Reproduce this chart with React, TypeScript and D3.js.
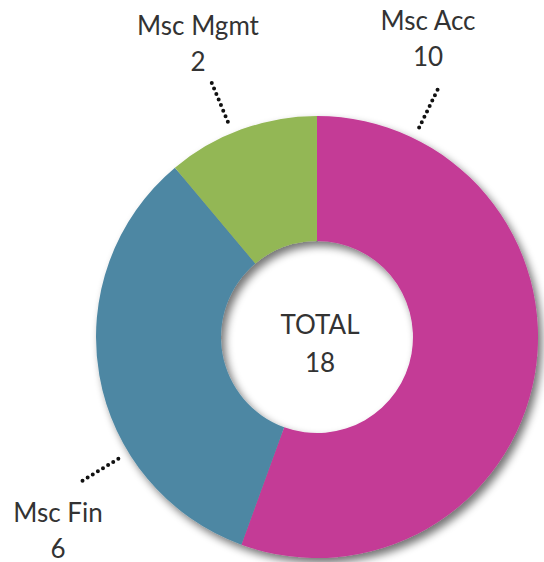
import React from "react";
import * as d3 from "d3";

const categories = ["Msc Acc", "Msc Fin", "Msc Mgmt"];
const values = [10, 6, 2];
const colors = ["#C43A96", "#4E87A3", "#93B755"];
const totalLabel = "TOTAL";

// label layout (angles in degrees clockwise from top)
const leaderAngles = [26, 238.5, -22.5];
const labelPos = [
  { x: 428, y: 30 },
  { x: 58, y: 522 },
  { x: 198, y: 35 },
];

const W = 544;
const H = 562;
const cx = 317;
const cy = 337;
const outerR = 221;
const innerR = 96;

export default function App() {
  const pie = d3.pie<number>().sort(null).value((d) => d);
  const arcs = pie(values);
  const arcGen = d3.arc<d3.PieArcDatum<number>>().innerRadius(innerR).outerRadius(outerR);
  const total = d3.sum(values);
  const font = "Lato, 'Open Sans', sans-serif";
  const pt = (a: number, r: number) => {
    const rad = (a * Math.PI) / 180;
    return [cx + r * Math.sin(rad), cy - r * Math.cos(rad)];
  };
  const fs = 26;
  const tc = "#333";
  return (
    <svg width={W} height={H} style={{ position: "absolute", left: 0, top: 0 }}>
      <defs>
        <filter id="sh" x="-20%" y="-20%" width="140%" height="140%">
          <feGaussianBlur in="SourceAlpha" stdDeviation="4" />
          <feOffset dx="4" dy="5" result="ob" />
          <feComponentTransfer>
            <feFuncA type="linear" slope="0.55" />
          </feComponentTransfer>
          <feMerge>
            <feMergeNode />
            <feMergeNode in="SourceGraphic" />
          </feMerge>
        </filter>
      </defs>
      <g transform={`translate(${cx},${cy})`} filter="url(#sh)">
        {arcs.map((a, i) => (
          <path key={i} d={arcGen(a) || ""} fill={colors[i]} />
        ))}
      </g>
      {categories.map((c, i) => {
        const [x1, y1] = pt(leaderAngles[i], 233);
        const [x2, y2] = pt(leaderAngles[i], 276);
        return (
          <g key={c}>
            <line x1={x1} y1={y1} x2={x2} y2={y2} stroke="#111" strokeWidth={4} strokeLinecap="round" strokeDasharray="0 6" />
            <text x={labelPos[i].x} y={labelPos[i].y} textAnchor="middle" fontFamily={font} fontSize={fs} fill={tc}>{c}</text>
            <text x={labelPos[i].x} y={labelPos[i].y + 36} textAnchor="middle" fontFamily={font} fontSize={fs} fill={tc}>{values[i]}</text>
          </g>
        );
      })}
      <text x={cx + 3} y={334} textAnchor="middle" fontFamily={font} fontSize={fs} fill={tc}>{totalLabel}</text>
      <text x={cx + 3} y={372} textAnchor="middle" fontFamily={font} fontSize={fs} fill={tc}>{total}</text>
    </svg>
  );
}
